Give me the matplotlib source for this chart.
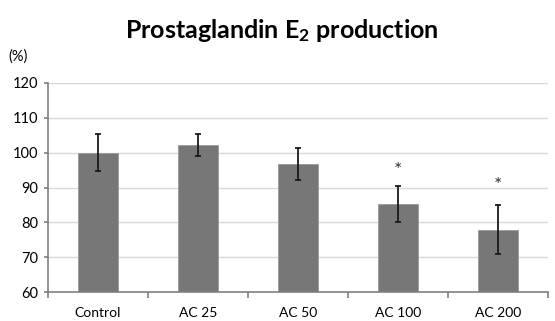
import matplotlib
matplotlib.use("Agg")
import matplotlib.pyplot as plt
import numpy as np

categories = ["Control", "AC 25", "AC 50", "AC 100", "AC 200"]
values = [100.0, 102.2, 96.7, 85.2, 77.9]
errors = [5.3, 3.3, 4.6, 5.1, 7.0]
significant = [False, False, False, True, True]
star_y = [None, None, None, 95.0, 90.6]
yticks = [60, 70, 80, 90, 100, 110, 120]

plt.rcParams['font.family'] = ['Lato', 'DejaVu Sans']
plt.rcParams['mathtext.default'] = 'regular'

fig = plt.figure(figsize=(5.55, 3.21), dpi=100)
ax = fig.add_axes([48/555, 1-292/321, 500/555, 209/321])

x = np.arange(len(categories))
ax.bar(x, [v - 60 for v in values], bottom=60, width=0.4, color='#777777',
       edgecolor='#9a9a9a', linewidth=0.6, zorder=2)
ax.errorbar(x, values, yerr=errors, fmt='none', ecolor='#1a1a1a', elinewidth=1.3,
            capsize=2.5, capthick=1.3, zorder=3)
for xi, sig, sy in zip(x, significant, star_y):
    if sig:
        ax.text(xi, sy, "*", ha='center', va='center', fontsize=14, color='#333333')

ax.set_xlim(-0.5, len(categories) - 0.5)
ax.set_ylim(60, 120)
ax.set_yticks(yticks)
ax.set_yticklabels([str(t) for t in yticks], fontsize=10.5)
ax.yaxis.grid(True, color='#d9d9d9', linewidth=1.0, zorder=0)
ax.set_axisbelow(True)
ax.set_xticks(x)
ax.set_xticklabels(categories, fontsize=10)
ax.set_xticks(np.arange(-0.5, len(categories)), minor=True)
ax.tick_params(axis='x', which='major', length=0, pad=11)
ax.tick_params(axis='x', which='minor', length=4, color='#808080', width=1.2)
ax.tick_params(axis='y', which='major', length=3, color='#808080', width=1.2, pad=4)
for s in ['top', 'right']:
    ax.spines[s].set_visible(False)
for s in ['left', 'bottom']:
    ax.spines[s].set_color('#808080')
    ax.spines[s].set_linewidth(1.2)

fig.text(282/555, 1-30/321, "Prostaglandin E$_2$ production", ha='center', va='center',
         fontsize=18, fontweight='bold')
fig.text(8/555, 1-57/321, "(%)", ha='left', va='center', fontsize=10.5)

fig.savefig("out.png", dpi=100)
